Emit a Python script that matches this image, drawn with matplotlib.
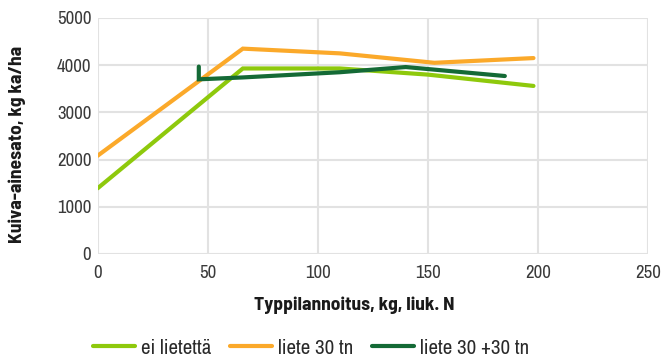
import matplotlib
matplotlib.use("Agg")
import matplotlib.pyplot as plt

plt.rcParams['font.family'] = ['Archivo Narrow', 'DejaVu Sans']
BOLD = ['Barlow Semi Condensed', 'Barlow Condensed', 'DejaVu Sans']

x_ei = [0, 66, 110, 150, 198]
y_ei = [1390, 3930, 3930, 3800, 3560]
x_l30 = [0, 66, 110, 153, 198]
y_l30 = [2080, 4350, 4250, 4050, 4150]
x_l60 = [46, 46, 66, 110, 140, 185]
y_l60 = [3970, 3700, 3740, 3850, 3960, 3770]
labels = ["ei lietettä", "liete 30 tn", "liete 30 +30 tn"]
colors = ["#8ec90c", "#fba92a", "#146a36"]
x_ticks = [0, 50, 100, 150, 200, 250]
y_ticks = [0, 1000, 2000, 3000, 4000, 5000]

fig = plt.figure(figsize=(6.68, 3.59), dpi=100)
ax = fig.add_axes([0.146, 0.2925, 0.824, 0.6575])
for xs, ys, lab, c in zip([x_ei, x_l30, x_l60], [y_ei, y_l30, y_l60], labels, colors):
    ax.plot(xs, ys, color=c, lw=3, label=lab, solid_capstyle='round', solid_joinstyle='miter')

ax.set_xlim(0, 250)
ax.set_ylim(0, 5000)
ax.set_xticks(x_ticks)
ax.set_yticks(y_ticks)
ax.grid(True, color="#e2e2e2", lw=1.5)
ax.set_axisbelow(True)
for s in ax.spines.values():
    s.set_visible(False)
ax.tick_params(length=0, labelsize=13.5, colors="#3a3a3a")
ax.tick_params(axis='x', pad=8)
ax.tick_params(axis='y', pad=4.5)
ax.set_xlabel("Typpilannoitus, kg, liuk. N", fontsize=14, fontweight='bold', family=BOLD,
              va='center', color="#1a1a1a")
ax.xaxis.set_label_coords(0.466, -0.216)
ax.set_ylabel("Kuiva-ainesato, kg ka/ha", fontsize=14, fontweight='bold', family=BOLD,
              va='center', color="#1a1a1a")
ax.yaxis.set_label_coords(-0.146, 0.464)
fig.legend(loc='center', bbox_to_anchor=(311 / 668, 1 - 348 / 359), ncol=3, frameon=False,
           fontsize=15, handlelength=2.0, columnspacing=0.9, handletextpad=0.3,
           borderpad=0, borderaxespad=0, labelcolor="#2a2a2a")
fig.savefig("out.png", dpi=100)
